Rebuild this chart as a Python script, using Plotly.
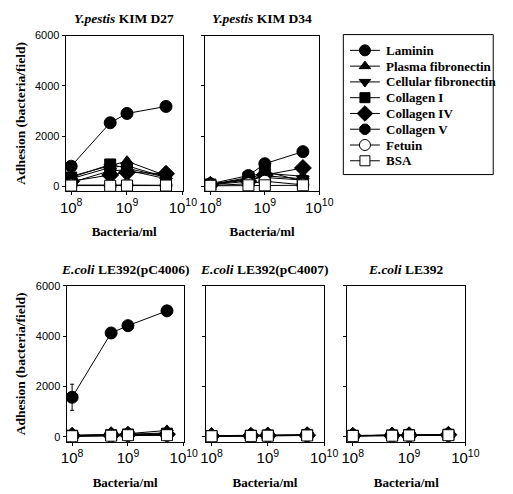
import plotly.graph_objects as go

W, H = 513, 494

conc = [1e8, 5e8, 1e9, 5e9]
series = ["Laminin", "Plasma fibronectin", "Cellular fibronectin", "Collagen I",
          "Collagen IV", "Collagen V", "Fetuin", "BSA"]

# values (bacteria/field), one list per series, order as in `series`
kim_d27 = [
    [800, 2530, 2900, 3180],
    [400, 800, 1000, 420],
    [300, 750, 820, 350],
    [350, 870, 720, 360],
    [200, 450, 560, 500],
    [150, 620, 650, 300],
    [50, 30, 50, 40],
    [30, 20, 30, 30],
]
kim_d34 = [
    [100, 430, 900, 1380],
    [80, 300, 520, 400],
    [80, 250, 420, 300],
    [70, 350, 600, 200],
    [60, 200, 450, 730],
    [60, 300, 350, 250],
    [30, 100, 200, 60],
    [20, 40, 40, 40],
]
pc4006 = [
    [1570, 4130, 4420, 5010],
    [60, 80, 120, 250],
    [50, 70, 100, 150],
    [40, 60, 90, 120],
    [40, 60, 80, 100],
    [30, 50, 80, 90],
    [20, 40, 60, 60],
    [20, 40, 60, 60],
]
pc4007 = [
    [40, 50, 60, 80],
    [30, 40, 50, 60],
    [30, 40, 50, 60],
    [30, 40, 50, 60],
    [30, 40, 50, 60],
    [30, 40, 50, 60],
    [20, 30, 40, 50],
    [20, 30, 40, 50],
]
le392 = [
    [50, 60, 70, 90],
    [40, 50, 60, 80],
    [40, 50, 60, 80],
    [40, 50, 60, 80],
    [40, 50, 60, 80],
    [40, 50, 60, 80],
    [30, 40, 50, 60],
    [30, 40, 50, 60],
]
# laminin error bars
kim_d27_err = [60, 80, 90, 130]
kim_d34_err = [30, 60, 100, 200]
pc4006_err = [520, 80, 90, 60]

symbols = ["circle", "triangle-up", "triangle-down", "square", "diamond",
           "octagon", "circle", "square"]
fills = ["black"] * 6 + ["white", "white"]
sizes = [12, 11, 11, 11, 13, 12, 12, 11]

# panel boxes in pixels: (left, right, top, bottom)
panels = [
    ("<i>Y.pestis</i> KIM D27", kim_d27, kim_d27_err, (62, 184, 30, 188), True),
    ("<i>Y.pestis</i> KIM D34", kim_d34, kim_d34_err, (207, 326, 30, 188), False),
    ("<i>E.coli</i> LE392(pC4006)", pc4006, pc4006_err, (63, 185, 284, 442), True),
    ("<i>E.coli</i> LE392(pC4007)", pc4007, None, (208, 331, 284, 442), False),
    ("<i>E.coli</i> LE392", le392, None, (355, 478, 284, 442), False),
]

serif = "Liberation Serif"
sans = "Liberation Sans"

fig = go.Figure()
annotations = []
shapes = []
for i, (title, data, err, (l, r, t, b), ylab) in enumerate(panels):
    n = "" if i == 0 else str(i + 1)
    xa, ya = "x" + n, "y" + n
    for j, name in enumerate(series):
        kw = {}
        if j == 0 and err is not None:
            kw["error_y"] = dict(type="data", array=err, color="black",
                                 thickness=1, width=2)
        fig.add_trace(go.Scatter(
            x=conc, y=data[j], name=name, mode="lines+markers",
            xaxis=xa, yaxis=ya, showlegend=False,
            line=dict(color="black", width=1),
            marker=dict(symbol=symbols[j], size=sizes[j],
                        color=fills[j], line=dict(color="black", width=1)),
            **kw))
    axcommon = dict(showline=True, linecolor="black", linewidth=1, mirror=True,
                    showgrid=False, zeroline=False, ticks="outside",
                    ticklen=3, tickcolor="black")
    fig.layout["xaxis" + n] = dict(
        type="log", range=[7.9, 10], domain=[l / W, r / W],
        anchor=ya, dtick=1, exponentformat="power",
        tickfont=dict(family=sans, size=12, color="black"),
        title=dict(text="<b>Bacteria/ml</b>", standoff=12,
                   font=dict(family=serif, size=13, color="black")),
        **axcommon)
    fig.layout["yaxis" + n] = dict(
        range=[-200, 6000], domain=[1 - b / H, 1 - t / H], anchor=xa,
        tickvals=[0, 2000, 4000, 6000], showticklabels=ylab,
        tickfont=dict(family=sans, size=11, color="black"),
        **axcommon)
    annotations.append(dict(
        text="<b>" + title + "</b>", x=(l + r) / 2 / W, y=1 - (t - 17) / H,
        xref="paper", yref="paper", showarrow=False, xanchor="center",
        yanchor="middle", font=dict(family=serif, size=13.5, color="black")))
    if ylab:
        annotations.append(dict(
            text="<b>Adhesion (bacteria/field)</b>", textangle=-90,
            x=15 / W, y=1 - (t + b) / 2 / H, xref="paper", yref="paper",
            showarrow=False, xanchor="center", yanchor="middle",
            font=dict(family=serif, size=13.5, color="black")))

# custom legend (key glyphs on an invisible axis pair)
LG_L, LG_R, LG_T, LG_B = 351, 507, 29, 171
key_x0, key_x1 = 358, 389
row0, row_h = 45, 16
fig.layout["xaxis6"] = dict(range=[0, W], domain=[0, 1], visible=False,
                            anchor="y6", fixedrange=True)
fig.layout["yaxis6"] = dict(range=[H, 0], domain=[0, 1], visible=False,
                            anchor="x6", fixedrange=True)
for j, name in enumerate(series):
    yy = row0 + j * row_h
    fig.add_trace(go.Scatter(
        x=[key_x0, (key_x0 + key_x1) / 2, key_x1], y=[yy, yy, yy],
        mode="lines", xaxis="x6", yaxis="y6", showlegend=False,
        hoverinfo="skip", line=dict(color="black", width=1)))
    fig.add_trace(go.Scatter(
        x=[(key_x0 + key_x1) / 2], y=[yy], name=name,
        mode="markers", xaxis="x6", yaxis="y6", showlegend=False,
        hoverinfo="skip",
        marker=dict(symbol=symbols[j], size=sizes[j] - 1, color=fills[j],
                    line=dict(color="black", width=1))))
    annotations.append(dict(
        text="<b>" + name + "</b>", x=(key_x1 + 4) / W, y=1 - yy / H,
        xref="paper", yref="paper", showarrow=False, xanchor="left",
        yanchor="middle", font=dict(family=serif, size=13, color="black")))
shapes.append(dict(type="rect", xref="paper", yref="paper",
                   x0=LG_L / W, x1=LG_R / W, y0=1 - LG_B / H, y1=1 - LG_T / H,
                   line=dict(color="black", width=1)))

fig.update_layout(
    width=W, height=H, margin=dict(l=0, r=0, t=0, b=0),
    paper_bgcolor="white", plot_bgcolor="rgba(0,0,0,0)",
    annotations=annotations, shapes=shapes, showlegend=False,
)
fig.write_html("out.html", config={"displayModeBar": False},
               post_script="document.body.style.margin='0';"
                           "document.body.style.padding='0';"
                           "document.body.style.overflow='hidden';")
